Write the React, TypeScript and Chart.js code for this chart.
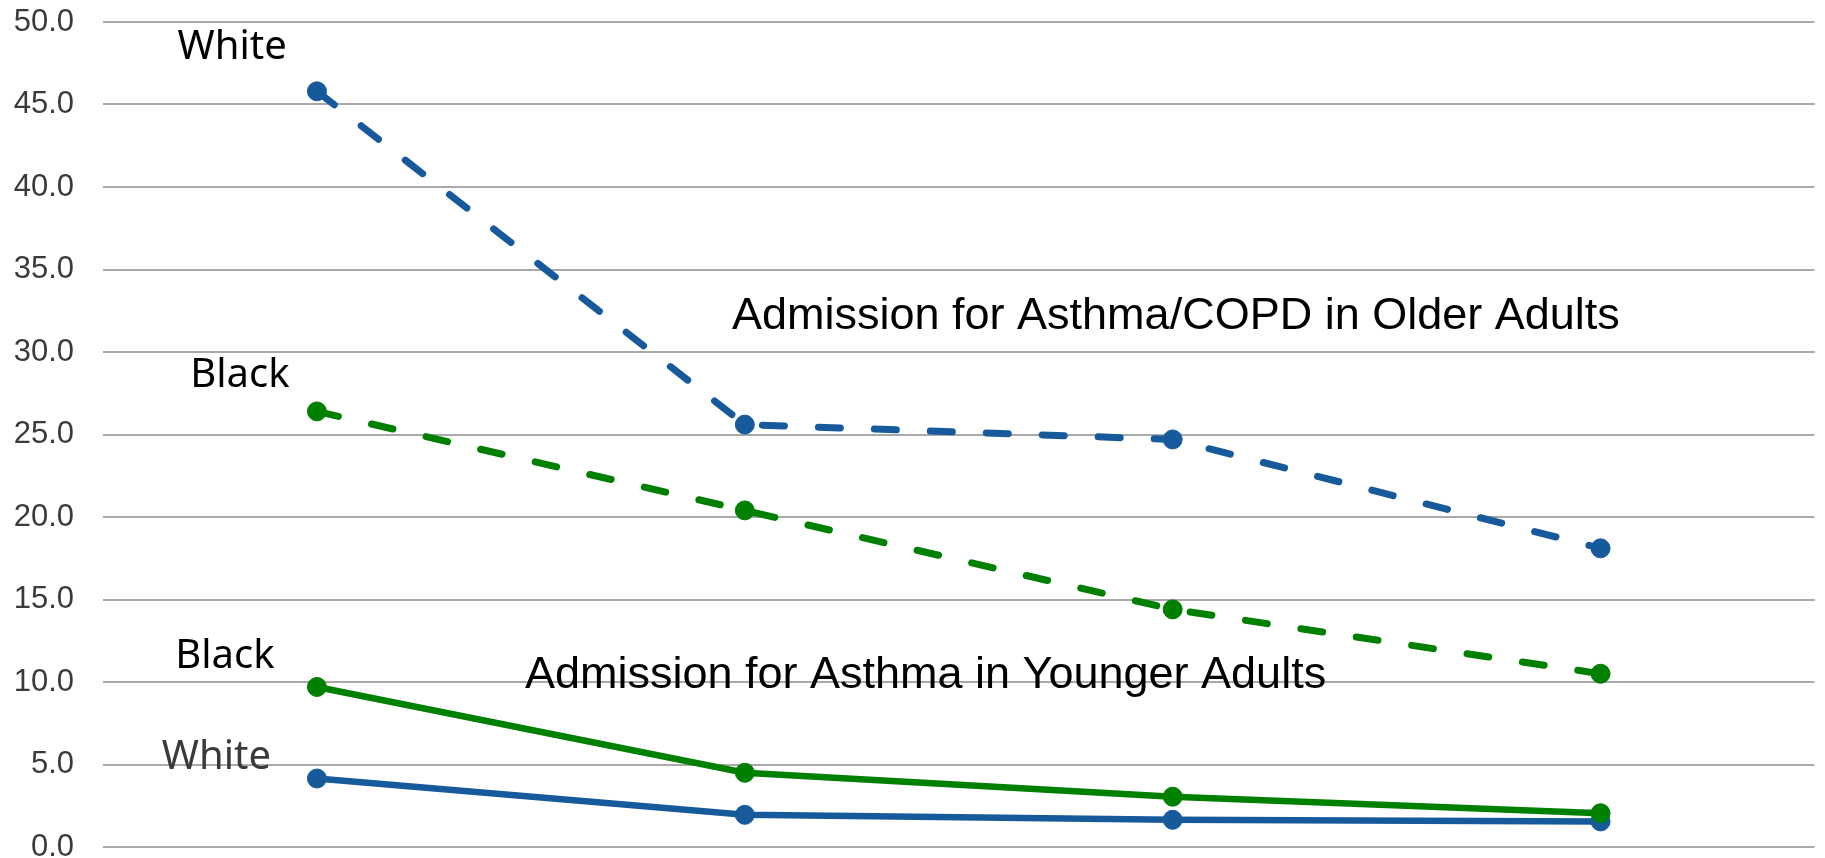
import React, { useEffect, useRef } from "react";
import { Chart, registerables } from "chart.js";

Chart.register(...registerables);

const categories = ["P1", "P2", "P3", "P4"];
const whiteOlder = [45.8, 25.6, 24.7, 18.1];
const blackOlder = [26.4, 20.4, 14.4, 10.5];
const blackYounger = [9.7, 4.5, 3.05, 2.05];
const whiteYounger = [4.15, 1.95, 1.65, 1.55];
const yTicks = [0, 5, 10, 15, 20, 25, 30, 35, 40, 45, 50];

const BLUE = "#175a9c";
const GREEN = "#008000";

// annotation texts: [text, x (category index), y (value), align, font, color]
const annotations: [string, number, number, CanvasTextAlign, string, string][] = [
  ["White", -0.198, 47.74, "center", "40px 'Noto Sans'", "#000000"],
  ["Black", -0.18, 27.88, "center", "40px 'Noto Sans'", "#000000"],
  ["Black", -0.215, 10.83, "center", "40px 'Noto Sans'", "#000000"],
  ["White", -0.235, 4.71, "center", "40px 'Noto Sans'", "#3a3a3a"],
  ["Admission for Asthma/COPD in Older Adults", 0.97, 31.42, "left", "45px 'Liberation Sans'", "#000000"],
  ["Admission for Asthma in Younger Adults", 0.486, 9.62, "left", "45px 'Liberation Sans'", "#000000"],
];

const annotationPlugin = {
  id: "textAnnotations",
  afterDatasetsDraw(chart: any) {
    const { ctx, scales } = chart;
    ctx.save();
    ctx.textBaseline = "alphabetic";
    for (const [text, xv, yv, align, font, color] of annotations) {
      ctx.font = font;
      ctx.fillStyle = color;
      ctx.textAlign = align;
      ctx.fillText(text, scales.x.getPixelForValue(xv), scales.y.getPixelForValue(yv));
    }
    ctx.restore();
  },
};

export default function App() {
  const ref = useRef<HTMLCanvasElement | null>(null);
  useEffect(() => {
    document.body.style.margin = "0";
    document.body.style.overflow = "hidden";
    if (!ref.current) return;
    const common = {
      tension: 0,
      pointRadius: 9.5,
      pointHoverRadius: 9.5,
      pointBorderWidth: 1,
      pointStyle: "circle",
    };
    const chart = new Chart(ref.current, {
      type: "line",
      data: {
        labels: categories,
        datasets: [
          {
            ...common,
            label: "Black younger",
            data: blackYounger,
            borderColor: GREEN,
            backgroundColor: GREEN,
            pointBackgroundColor: GREEN,
            pointBorderColor: GREEN,
            borderWidth: 6.5,
          },
          {
            ...common,
            label: "White younger",
            data: whiteYounger,
            borderColor: BLUE,
            backgroundColor: BLUE,
            pointBackgroundColor: BLUE,
            pointBorderColor: BLUE,
            borderWidth: 6.5,
          },
          {
            ...common,
            label: "Black older",
            data: blackOlder,
            borderColor: GREEN,
            backgroundColor: GREEN,
            pointBackgroundColor: GREEN,
            pointBorderColor: GREEN,
            borderWidth: 7,
            borderDash: [22, 34],
            borderCapStyle: "round",
          },
          {
            ...common,
            label: "White older",
            data: whiteOlder,
            borderColor: BLUE,
            backgroundColor: BLUE,
            pointBackgroundColor: BLUE,
            pointBorderColor: BLUE,
            borderWidth: 7,
            borderDash: [22, 34],
            borderCapStyle: "round",
          },
        ],
      } as any,
      options: {
        responsive: false,
        animation: false,
        layout: { padding: { top: 22, bottom: 11, right: 5, left: 0 } },
        plugins: {
          legend: { display: false },
          tooltip: { enabled: false },
        },
        scales: {
          x: {
            type: "category",
            display: false,
            offset: true,
          },
          y: {
            min: 0,
            max: 50,
            afterFit: (scale: any) => {
              scale.width = 103;
              scale.paddingTop = 0;
              scale.paddingBottom = 0;
            },
            afterBuildTicks: (scale: any) => {
              scale.ticks = yTicks.map((v) => ({ value: v }));
            },
            grid: { color: "#a9a9a9", lineWidth: 2, drawTicks: false },
            border: { display: false },
            ticks: {
              padding: 29,
              color: "#3a3a3a",
              font: { family: "'Liberation Sans'", size: 31 },
              callback: (v: any) => Number(v).toFixed(1),
            },
          },
        },
      } as any,
      plugins: [annotationPlugin],
    });
    return () => chart.destroy();
  }, []);
  return (
    <div style={{ width: 1825, height: 858 }}>
      <canvas ref={ref} width={1825} height={858} style={{ display: "block" }} />
    </div>
  );
}
